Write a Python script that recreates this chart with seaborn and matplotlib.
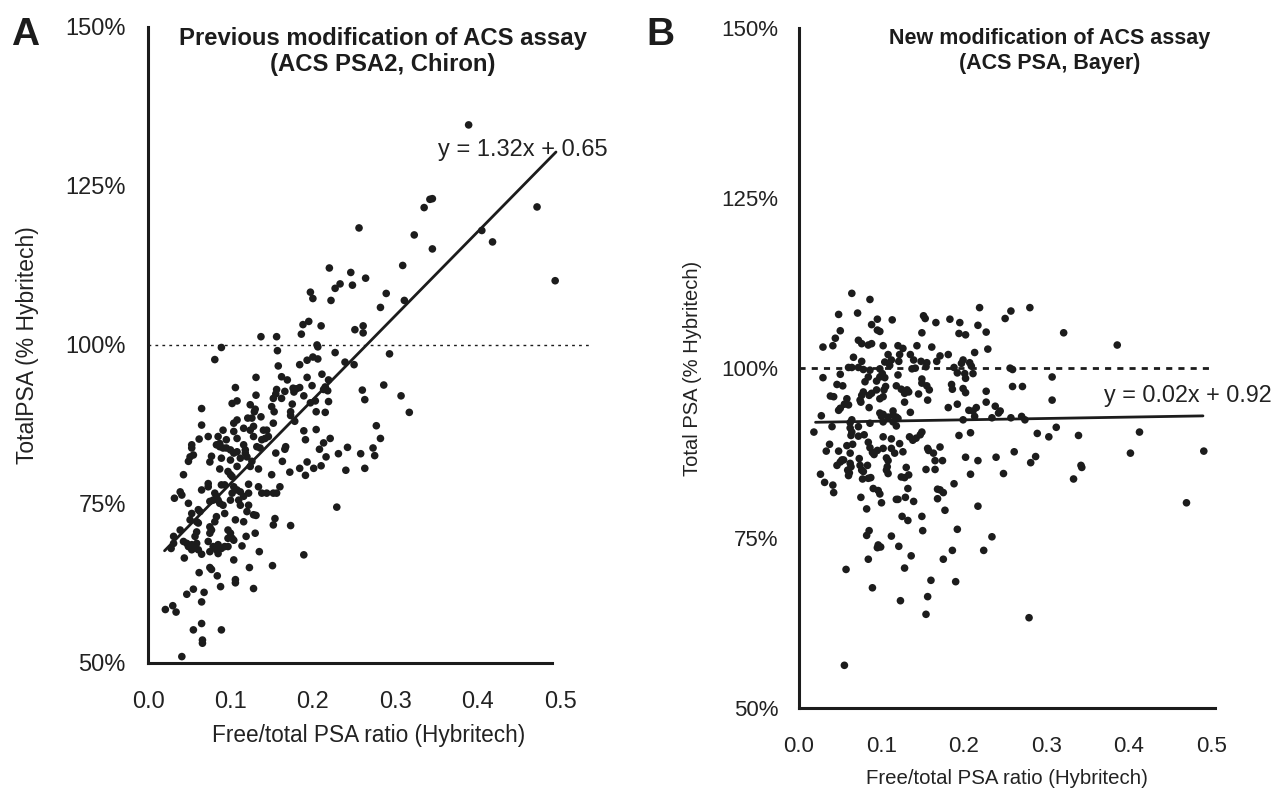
import numpy as np
import pandas as pd
import matplotlib
matplotlib.use("Agg")
import matplotlib.pyplot as plt
from matplotlib.ticker import MultipleLocator, FuncFormatter
import seaborn as sns

# === panel A: previous modification (ACS PSA2, Chiron) ===
ratio_a = [
    0.137, 0.156, 0.089, 0.081, 0.157, 0.158, 0.131, 0.106, 0.131, 0.156, 0.155, 0.152,
    0.102, 0.108, 0.124, 0.065, 0.130, 0.129, 0.150, 0.153, 0.137, 0.121, 0.126, 0.108,
    0.104, 0.116, 0.128, 0.124, 0.091, 0.065, 0.140, 0.144, 0.152, 0.104, 0.073, 0.062,
    0.085, 0.087, 0.095, 0.108, 0.128, 0.138, 0.142, 0.146, 0.053, 0.053, 0.083, 0.087,
    0.091, 0.095, 0.100, 0.116, 0.118, 0.104, 0.108, 0.132, 0.136, 0.155, 0.051, 0.055,
    0.049, 0.077, 0.089, 0.118, 0.120, 0.100, 0.112, 0.075, 0.126, 0.087, 0.108, 0.134,
    0.097, 0.100, 0.102, 0.150, 0.043, 0.124, 0.073, 0.073, 0.089, 0.093, 0.104, 0.108,
    0.122, 0.134, 0.065, 0.039, 0.041, 0.081, 0.083, 0.079, 0.102, 0.112, 0.116, 0.122,
    0.138, 0.144, 0.152, 0.156, 0.032, 0.049, 0.075, 0.085, 0.087, 0.100, 0.110, 0.112,
    0.091, 0.122, 0.061, 0.063, 0.053, 0.051, 0.120, 0.083, 0.081, 0.093, 0.128, 0.131,
    0.061, 0.059, 0.106, 0.116, 0.154, 0.039, 0.031, 0.059, 0.057, 0.075, 0.077, 0.075,
    0.097, 0.100, 0.097, 0.102, 0.104, 0.152, 0.130, 0.119, 0.031, 0.043, 0.047, 0.049,
    0.053, 0.053, 0.059, 0.055, 0.061, 0.073, 0.079, 0.075, 0.085, 0.083, 0.085, 0.089,
    0.093, 0.097, 0.114, 0.028, 0.044, 0.065, 0.135, 0.104, 0.151, 0.123, 0.075, 0.077,
    0.062, 0.084, 0.106, 0.106, 0.055, 0.047, 0.068, 0.088, 0.128, 0.065, 0.021, 0.030,
    0.034, 0.065, 0.055, 0.089, 0.066, 0.066, 0.041,
    0.389, 0.345, 0.342, 0.335, 0.256, 0.323, 0.345, 0.220, 0.246, 0.309, 0.264, 0.233,
    0.227, 0.248, 0.197, 0.200, 0.289, 0.222, 0.311, 0.282, 0.188, 0.195, 0.210, 0.186,
    0.251, 0.261, 0.261, 0.205, 0.206, 0.227, 0.293, 0.184, 0.193, 0.200, 0.206, 0.239,
    0.250, 0.193, 0.211, 0.162, 0.169, 0.199, 0.219, 0.184, 0.180, 0.213, 0.218, 0.215,
    0.166, 0.177, 0.176, 0.189, 0.162, 0.197, 0.203, 0.219, 0.260, 0.263, 0.286, 0.307,
    0.317, 0.173, 0.173, 0.175, 0.204, 0.215, 0.178, 0.277, 0.189, 0.204, 0.191, 0.221,
    0.213, 0.282, 0.208, 0.167, 0.166, 0.242, 0.273, 0.275, 0.258, 0.231, 0.216, 0.163,
    0.193, 0.184, 0.201, 0.210, 0.191, 0.172, 0.240, 0.263,
    0.160, 0.229, 0.173, 0.189, 0.472, 0.405, 0.418, 0.494,
]
total_a = [
    101.3, 101.3, 99.6, 97.7, 99.1, 96.7, 94.9, 93.3, 92.1, 93.0, 92.3, 91.6,
    90.8, 91.2, 90.6, 90.0, 89.9, 89.5, 90.3, 89.5, 88.7, 88.5, 88.5, 88.2,
    87.7, 86.9, 87.2, 86.6, 86.6, 87.4, 86.6, 86.6, 87.7, 86.4, 85.6, 85.2,
    85.6, 84.5, 85.1, 85.3, 85.6, 85.1, 85.3, 85.6, 84.3, 83.8, 84.3, 84.0,
    83.8, 83.8, 83.5, 84.3, 83.5, 83.0, 83.2, 84.0, 83.8, 83.0, 82.4, 82.7,
    81.7, 82.5, 82.2, 83.0, 82.4, 81.9, 82.2, 81.6, 81.7, 80.5, 80.9, 80.5,
    80.1, 79.6, 79.3, 79.6, 79.6, 80.9, 78.2, 77.7, 78.0, 78.0, 77.7, 77.2,
    78.1, 77.7, 77.2, 76.9, 76.4, 76.7, 76.2, 75.6, 76.7, 76.9, 76.2, 76.7,
    76.7, 76.7, 76.7, 76.7, 75.9, 75.1, 75.4, 75.6, 75.1, 75.6, 75.6, 74.8,
    74.8, 74.8, 74.1, 73.8, 73.5, 72.5, 73.8, 73.0, 72.2, 73.5, 73.3, 73.2,
    72.0, 72.2, 72.5, 72.2, 72.7, 70.9, 69.9, 70.6, 69.9, 71.4, 70.9, 70.4,
    70.9, 70.4, 69.6, 69.6, 69.3, 71.7, 70.4, 69.9, 68.8, 69.1, 68.8, 68.3,
    68.6, 67.8, 68.8, 68.0, 67.8, 69.1, 68.3, 67.5, 68.6, 67.8, 67.2, 68.0,
    68.3, 68.3, 68.4, 68.0, 66.5, 67.1, 67.5, 66.2, 65.3, 65.0, 65.0, 64.7,
    64.2, 63.7, 63.1, 62.6, 61.6, 60.8, 61.1, 62.0, 61.7, 59.6, 58.4, 59.0,
    58.0, 56.2, 55.2, 55.2, 53.6, 53.1, 51.0,
    134.6, 123.0, 122.9, 121.6, 118.4, 117.3, 115.1, 112.1, 111.4, 112.5, 110.5, 109.6,
    108.9, 109.4, 108.3, 107.3, 108.1, 107.0, 107.0, 105.9, 103.2, 103.7, 103.0, 101.7,
    102.4, 103.0, 101.9, 100.0, 99.7, 98.8, 98.6, 96.9, 97.6, 98.1, 97.8, 97.3,
    96.9, 94.9, 95.4, 95.0, 94.5, 93.6, 94.5, 93.3, 93.1, 93.0, 92.8, 93.4,
    92.7, 92.6, 93.2, 92.0, 91.6, 90.9, 91.2, 91.1, 92.9, 91.4, 93.7, 92.0,
    89.4, 89.5, 88.9, 90.7, 89.5, 89.4, 88.0, 87.3, 86.5, 86.7, 85.1, 85.3,
    84.6, 85.3, 83.6, 84.0, 83.6, 83.9, 83.8, 82.6, 82.9, 82.9, 82.4, 81.7,
    81.6, 80.6, 80.6, 81.0, 79.5, 80.0, 80.3, 80.6,
    77.7, 74.5, 71.6, 67.0, 121.7, 118.0, 116.2, 110.1,
]

# === panel B: new modification (ACS PSA, Bayer) ===
ratio_b = [
    0.064, 0.086, 0.048, 0.071, 0.095, 0.113, 0.151, 0.153, 0.166, 0.050, 0.044, 0.088,
    0.095, 0.098, 0.149, 0.029, 0.041, 0.072, 0.076, 0.084, 0.088, 0.102, 0.120, 0.126,
    0.143, 0.161, 0.066, 0.076, 0.108, 0.112, 0.122, 0.121, 0.135, 0.139, 0.148, 0.155,
    0.167, 0.060, 0.064, 0.072, 0.078, 0.086, 0.098, 0.110, 0.104, 0.137, 0.141, 0.154,
    0.050, 0.029, 0.084, 0.080, 0.094, 0.098, 0.104, 0.101, 0.120, 0.149, 0.149, 0.046,
    0.053, 0.105, 0.103, 0.118, 0.124, 0.131, 0.133, 0.128, 0.155, 0.158, 0.078, 0.076,
    0.088, 0.085, 0.094, 0.038, 0.042, 0.058, 0.074, 0.075, 0.098, 0.102, 0.145, 0.156,
    0.128, 0.055, 0.060, 0.050, 0.048, 0.085, 0.027, 0.064, 0.062, 0.098, 0.100, 0.102,
    0.108, 0.114, 0.114, 0.118, 0.120, 0.135, 0.040, 0.062, 0.064, 0.063, 0.072, 0.072,
    0.018, 0.086, 0.102, 0.114, 0.118, 0.079, 0.102, 0.112, 0.122, 0.134, 0.149, 0.147,
    0.142, 0.138, 0.037, 0.033, 0.048, 0.058, 0.062, 0.065, 0.084, 0.086, 0.089, 0.091,
    0.095, 0.102, 0.112, 0.116, 0.126, 0.156, 0.157, 0.163, 0.165, 0.052, 0.054, 0.050,
    0.062, 0.063, 0.073, 0.074, 0.106, 0.108, 0.046, 0.083, 0.076, 0.078, 0.077, 0.059,
    0.061, 0.060, 0.107, 0.106, 0.130, 0.154, 0.165, 0.084, 0.087, 0.108, 0.124, 0.128,
    0.133, 0.026, 0.031, 0.041, 0.042, 0.090, 0.096, 0.098, 0.132, 0.075, 0.168, 0.168,
    0.118, 0.120, 0.129, 0.100, 0.139, 0.082, 0.125, 0.132, 0.149, 0.085, 0.082, 0.150,
    0.112, 0.096, 0.099, 0.095, 0.121, 0.136, 0.084, 0.057, 0.128, 0.160, 0.089,
    0.123, 0.156, 0.154, 0.055,
    0.219, 0.280, 0.257, 0.250, 0.183, 0.195, 0.217, 0.227, 0.194, 0.202, 0.321, 0.386,
    0.229, 0.213, 0.181, 0.171, 0.199, 0.197, 0.207, 0.209, 0.188, 0.192, 0.201, 0.211,
    0.256, 0.259, 0.202, 0.307, 0.185, 0.186, 0.199, 0.202, 0.259, 0.271, 0.227, 0.307,
    0.227, 0.192, 0.181, 0.215, 0.211, 0.206, 0.238, 0.244, 0.242, 0.213, 0.199, 0.234,
    0.257, 0.270, 0.274, 0.312, 0.208, 0.194, 0.289, 0.303, 0.339, 0.413, 0.171, 0.261,
    0.402, 0.491, 0.202, 0.217, 0.239, 0.287, 0.281, 0.174, 0.343, 0.342, 0.208, 0.248,
    0.333, 0.188, 0.171, 0.175, 0.217, 0.177, 0.470, 0.192, 0.234, 0.186, 0.224, 0.175,
    0.190, 0.279,
]
total_b = [
    111.0, 110.1, 107.9, 108.1, 107.2, 107.1, 107.7, 107.3, 106.7, 105.5, 104.4, 106.4,
    105.6, 105.4, 105.2, 103.1, 103.3, 104.1, 103.6, 103.4, 103.6, 103.3, 103.3, 102.9,
    103.3, 103.1, 101.6, 101.0, 102.0, 101.2, 102.0, 101.0, 102.0, 101.2, 101.0, 100.8,
    101.0, 100.1, 100.1, 100.1, 99.8, 99.7, 99.9, 100.4, 100.9, 99.9, 100.0, 100.2,
    99.1, 98.6, 98.7, 98.0, 98.1, 98.7, 98.6, 99.2, 99.0, 98.4, 97.8, 97.6,
    97.4, 97.3, 96.8, 97.4, 96.9, 96.8, 96.5, 96.3, 97.4, 96.8, 96.5, 96.0,
    96.3, 96.0, 96.8, 95.9, 95.8, 95.5, 95.3, 95.0, 95.5, 95.8, 96.2, 95.3,
    95.0, 94.7, 94.6, 94.1, 93.8, 94.2, 93.0, 92.4, 92.0, 93.4, 92.9, 93.2,
    92.8, 93.7, 93.1, 92.8, 92.6, 93.5, 91.4, 91.2, 90.6, 90.1, 91.4, 90.0,
    90.6, 91.9, 92.1, 92.1, 91.5, 90.2, 89.9, 89.6, 88.9, 89.9, 90.6, 90.2,
    89.7, 89.4, 88.8, 87.8, 87.8, 88.6, 87.5, 88.8, 89.1, 88.3, 87.6, 87.3,
    87.9, 88.2, 88.2, 87.5, 87.7, 88.2, 87.9, 87.5, 86.4, 86.5, 86.5, 86.2,
    86.0, 85.5, 86.7, 85.7, 86.8, 86.4, 85.7, 85.7, 85.0, 84.8, 83.7, 85.0,
    84.6, 84.2, 85.5, 85.0, 85.4, 85.1, 85.1, 83.8, 83.9, 84.5, 84.0, 83.9,
    84.3, 84.4, 83.2, 82.8, 81.7, 82.3, 82.0, 81.5, 82.3, 81.0, 82.2, 80.8,
    80.7, 80.7, 81.0, 80.2, 80.4, 79.3, 78.2, 77.6, 78.2, 76.1, 75.4, 76.1,
    75.3, 74.0, 73.7, 73.6, 73.8, 72.4, 71.9, 70.4, 70.6, 68.8, 67.7,
    65.8, 66.4, 63.8, 56.3,
    108.9, 108.9, 108.4, 107.3, 107.2, 106.7, 106.3, 105.3, 105.1, 104.9, 105.2, 103.4,
    102.8, 102.3, 102.0, 101.8, 101.2, 100.7, 100.8, 100.3, 100.1, 99.3, 99.2, 99.2,
    100.0, 99.8, 98.5, 98.7, 97.6, 96.9, 97.0, 96.4, 97.3, 97.3, 96.6, 95.3,
    95.0, 94.7, 94.2, 94.2, 93.7, 93.8, 94.4, 93.7, 93.4, 92.9, 92.4, 92.7,
    92.7, 92.9, 92.4, 91.3, 90.5, 90.1, 90.4, 89.9, 90.1, 90.6, 88.4, 87.7,
    87.5, 87.8, 86.9, 86.4, 86.9, 87.0, 86.1, 86.4, 85.4, 85.7, 84.4, 84.5,
    83.7, 83.0, 82.1, 81.7, 79.7, 79.1, 80.2, 76.3, 75.2, 73.2, 73.2, 71.9,
    68.6, 63.3,
]

# regression lines as printed on the chart
fit_a = (1.32, 0.65)
fit_b = (0.02, 0.92)
fit_range_a = [0.02, 0.495]
fit_range_b = [0.02, 0.49]

df_a = pd.DataFrame({"ratio": ratio_a, "total": total_a})
df_b = pd.DataFrame({"ratio": ratio_b, "total": total_b})

sns.set_style("white")
plt.rcParams["font.family"] = ["Liberation Sans", "DejaVu Sans"]
ink = "#1c1c1c"
grey_txt = "#222222"

fig = plt.figure(figsize=(12.73, 7.93), dpi=100)
ax_a = fig.add_axes([0.1163, 0.164, 0.347, 0.802])
ax_b = fig.add_axes([0.6277, 0.107, 0.327, 0.8575])

pct = FuncFormatter(lambda v, p: f"{v:.0f}%")
dec = FuncFormatter(lambda v, p: f"{v:.1f}")

for ax, df, fit, rng, xlim in [
    (ax_a, df_a, fit_a, fit_range_a, (0, 0.536)),
    (ax_b, df_b, fit_b, fit_range_b, (0, 0.505)),
]:
    sns.scatterplot(data=df, x="ratio", y="total", ax=ax, s=30, color=ink,
                    edgecolor="none", linewidth=0, zorder=3)
    xs = np.array(rng)
    ax.plot(xs, (fit[0] * xs + fit[1]) * 100, color=ink, lw=2.0, zorder=4)
    ax.set_xlim(*xlim)
    ax.set_ylim(50, 150)
    ax.xaxis.set_major_locator(MultipleLocator(0.1))
    ax.xaxis.set_minor_locator(MultipleLocator(0.02))
    ax.yaxis.set_major_locator(MultipleLocator(25))
    ax.yaxis.set_minor_locator(MultipleLocator(5))
    ax.xaxis.set_major_formatter(dec)
    ax.yaxis.set_major_formatter(pct)
    for s in ["top", "right"]:
        ax.spines[s].set_visible(False)
    for s in ["left", "bottom"]:
        ax.spines[s].set_color(ink)
        ax.spines[s].set_linewidth(2.2)

# panel A details
ax_a.set_xlabel("Free/total PSA ratio (Hybritech)", fontsize=16.3, color=grey_txt, labelpad=8)
ax_a.set_ylabel("TotalPSA (% Hybritech)", fontsize=16.5, color=grey_txt, labelpad=19)
ax_a.axhline(100, xmin=0, xmax=1, color=ink, lw=1.0, ls=(0, (2, 3)), zorder=2)
ax_a.spines["bottom"].set_bounds(0, 0.49)
ax_a.tick_params(axis="both", which="both", direction="in", labelsize=17,
                 colors="#bbbbbb", labelcolor=grey_txt, width=0.8)
ax_a.tick_params(axis="both", which="major", length=4)
ax_a.tick_params(axis="both", which="minor", length=2)
ax_a.tick_params(axis="x", which="major", pad=20)
ax_a.tick_params(axis="y", which="major", pad=16)
ax_a.text(0.532, 1.0, "Previous modification of ACS assay\n(ACS PSA2, Chiron)",
          transform=ax_a.transAxes, ha="center", va="top", fontsize=17.2,
          fontweight="bold", color=ink, linespacing=1.15)
ax_a.text(0.352, 130.7, "y = 1.32x + 0.65", ha="left", va="center", fontsize=17,
          color=grey_txt)

# panel B details
ax_b.set_xlabel("Free/total PSA ratio (Hybritech)", fontsize=14.7, color=grey_txt, labelpad=9)
ax_b.set_ylabel("Total PSA (% Hybritech)", fontsize=14.5, color=grey_txt, labelpad=14)
ax_b.axhline(100, xmin=0, xmax=0.99, color=ink, lw=2.0, ls=(0, (2.2, 2.2)), zorder=2)
ax_b.tick_params(axis="both", which="both", direction="in", labelsize=16,
                 colors=ink, labelcolor=grey_txt, width=1.4)
ax_b.tick_params(axis="both", which="major", length=6)
ax_b.tick_params(axis="both", which="minor", length=5)
ax_b.tick_params(axis="x", which="major", pad=20)
ax_b.tick_params(axis="y", which="major", pad=15)
ax_b.text(0.603, 1.0, "New modification of ACS assay\n(ACS PSA, Bayer)",
          transform=ax_b.transAxes, ha="center", va="top", fontsize=15.5,
          fontweight="bold", color=ink, linespacing=1.25)
ax_b.text(0.370, 96.0, "y = 0.02x + 0.92", ha="left", va="center", fontsize=16.8,
          color=grey_txt)

fig.text(0.009, 0.956, "A", fontsize=28, fontweight="bold", color=ink, va="center")
fig.text(0.508, 0.956, "B", fontsize=28, fontweight="bold", color=ink, va="center")

fig.savefig("out.png", dpi=100, facecolor="white")
